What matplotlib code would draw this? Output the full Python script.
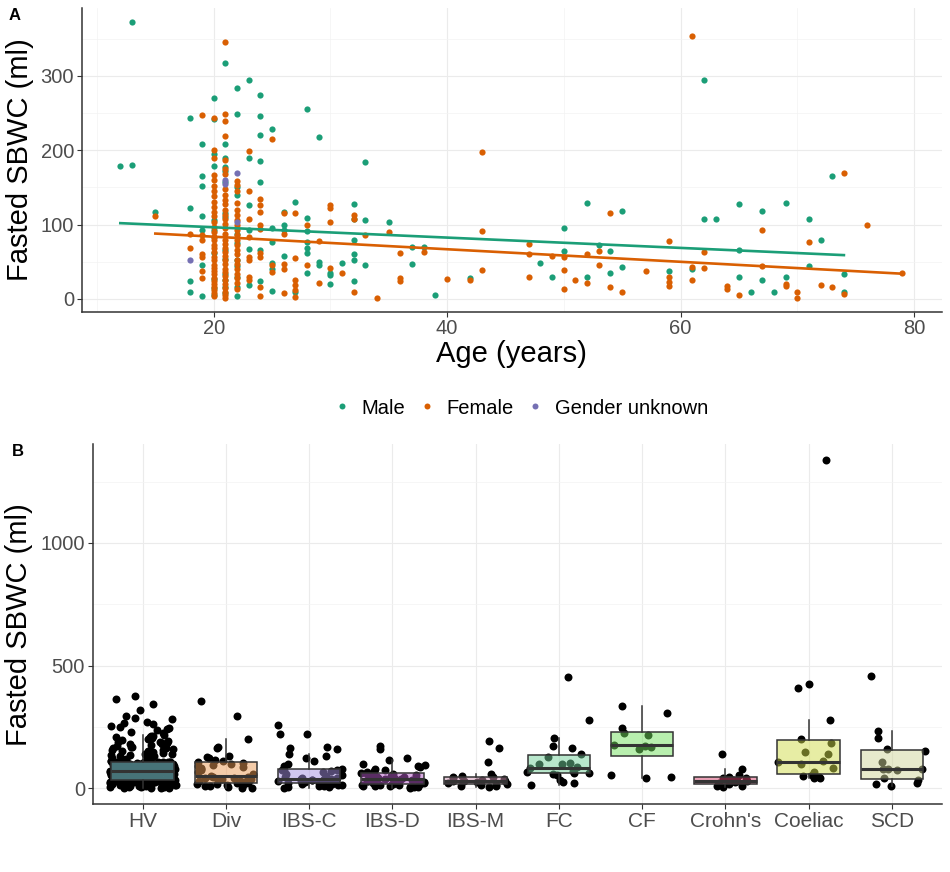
import numpy as np
import matplotlib
matplotlib.use("Agg")
import matplotlib.pyplot as plt
from matplotlib.lines import Line2D
from matplotlib.colors import to_rgba

plt.rcParams['font.family'] = ['Liberation Sans', 'DejaVu Sans']

# ---------------- Panel A data: SBWC by age, per gender ----------------
male_by_age = {
    12: [179], 13: [373, 180], 15: [117], 18: [244, 123, 24, 9],
    19: [208, 165, 152, 112, 93, 46, 4],
    20: [270, 242, 195, 179, 106, 93, 84, 62, 27, 15, 6],
    21: [318, 208, 189, 178, 172, 158, 115, 110, 66, 54, 34, 25, 16, 8],
    22: [284, 249, 151, 140, 88, 75, 52, 45, 30, 16, 4],
    23: [294, 189, 126, 93, 67, 19],
    24: [274, 246, 221, 186, 158, 66, 24],
    25: [229, 95, 76, 48, 40, 11], 26: [117, 99, 93, 58], 27: [130, 9],
    28: [256, 109, 91, 76, 68, 62, 35], 29: [218, 50, 46], 30: [35, 32, 20],
    31: [49], 32: [128, 108, 80, 61, 52, 24], 33: [184, 106, 46], 35: [104],
    37: [70, 47], 38: [70], 39: [5], 42: [28], 48: [48], 49: [29],
    50: [95, 65], 52: [129, 30], 53: [73], 54: [65, 35], 55: [119, 43],
    59: [37], 61: [40], 62: [294, 108], 63: [108], 65: [128, 66, 30],
    66: [9], 67: [119, 26], 68: [10], 69: [129, 29], 71: [108, 45],
    72: [80], 73: [165], 74: [33, 9],
}
female_by_age = {
    15: [111], 18: [87, 69], 19: [247, 86, 79, 61, 57, 38, 28],
    20: [244, 200, 190, 167, 160, 152, 145, 138, 131, 124, 117, 111, 104, 97, 90,
         84, 79, 73, 68, 63, 57, 52, 46, 42, 38, 33, 28, 24, 20, 16, 12, 8, 4],
    21: [346, 249, 240, 219, 187, 175, 168, 148, 140, 133, 128, 120, 113, 108, 101,
         95, 88, 80, 74, 69, 63, 58, 53, 47, 41, 36, 31, 26, 20, 15, 10, 5, 2],
    22: [159, 153, 145, 129, 120, 113, 106, 100, 93, 86, 80, 73, 66, 60, 53, 47,
         40, 34, 28, 22, 14],
    23: [199, 145, 107, 84, 57, 52, 30, 25],
    24: [134, 126, 117, 99, 94, 62, 56, 16, 4],
    25: [215, 46, 36], 26: [115, 88, 47, 41, 8], 27: [116, 55, 26, 19, 12, 3],
    28: [99, 46], 29: [78, 22], 30: [126, 122, 103, 42], 31: [35],
    32: [113, 108, 9], 33: [86], 34: [2], 35: [90], 36: [62, 28, 24], 38: [63],
    40: [27], 42: [26], 43: [198, 92, 39], 47: [74, 61, 29], 49: [58],
    50: [57, 39, 13], 51: [26], 52: [61, 21], 53: [65, 46], 54: [116, 16],
    55: [9], 57: [37], 59: [78, 30, 23, 17], 61: [354, 43, 25], 62: [63, 42],
    64: [18, 14], 65: [5], 67: [93, 45], 69: [20, 17], 70: [9, 2], 71: [76],
    72: [19], 73: [16], 74: [169, 7], 76: [99], 79: [35],
}
unknown_by_age = {18: [53], 21: [160, 155], 22: [169, 104]}

# linear-fit lines (age range, fitted SBWC at both ends)
male_fit_age = [12, 74]
male_fit_sbwc = [102, 59]
female_fit_age = [15, 79]
female_fit_sbwc = [88, 34]

gender_labels = ["Male", "Female", "Gender unknown"]
gender_colors = ["#1B9E77", "#D95F02", "#7570B3"]

# ---------------- Panel B data: SBWC per group ----------------
groups = ["HV", "Div", "IBS-C", "IBS-D", "IBS-M", "FC", "CF", "Crohn's", "Coeliac", "SCD"]
group_colors = ["#8fe6f0", "#eb9b55", "#a591e1", "#b45ac8", "#cd91af",
                "#73d19b", "#73e15f", "#d9456f", "#d1dd4b", "#d1d79b"]

hv = [1, 2, 3, 3, 4, 5, 5, 6, 6, 7, 8, 8, 9, 10, 10, 11, 12, 12, 13, 14, 15,
      15, 16, 17, 17, 18, 19, 19, 20, 20, 21, 22, 22, 23, 24, 24, 25, 26, 26, 27, 27, 28,
      28, 29, 29, 30, 30, 30, 31, 31, 31, 32, 32, 32, 33, 33, 33, 33, 34, 34, 34, 34,
      35, 35, 36, 36, 37, 37, 38, 38, 39, 40, 40, 41, 41, 42, 43, 43, 44, 44, 45, 45, 46,
      47, 47, 48, 49, 49, 50, 51, 51, 52, 53, 53, 54, 55, 55, 56, 57, 57, 58, 58, 59, 59,
      60, 61, 61, 62, 63, 63, 64, 65, 65, 66, 67, 67, 68, 68, 69, 69, 70, 70, 70, 71,
      72, 72, 73, 74, 74, 75, 76, 76, 77, 78, 78, 79, 80, 80, 81, 81, 82, 82, 83, 84, 84,
      85, 86, 86, 87, 88, 88, 89, 90, 90, 91, 92, 92, 93, 94, 94, 95, 96, 96, 97, 97, 98,
      98, 99, 100, 100, 101, 102, 102, 103, 104, 104, 105, 105, 106, 106, 107, 107, 108, 108, 109, 109,
      110, 112, 115, 118, 121, 124, 125, 129, 131, 133, 134, 137, 138, 141, 145, 147,
      149, 150, 152, 155, 158, 161, 163, 166, 168, 170, 172, 176, 179, 181, 185, 186, 188, 190,
      194, 197, 201, 205, 208, 211, 212, 215, 218,
      226, 230, 236, 240, 246, 250, 255, 262, 266, 271, 281, 286, 295, 320, 344, 362, 376]
div = [356, 295, 200, 167, 166, 131, 127, 122, 115, 112, 108, 105, 101, 96, 92, 88, 84,
       80, 75, 68, 60, 50, 47, 45, 44, 42, 39, 36, 33, 30, 28, 26, 24, 22, 20, 18, 16,
       14, 12, 10, 8, 5, 3, 1]
ibs_c = [2, 4, 6, 8, 10, 12, 14, 16, 18, 19, 20, 21, 23, 24, 25, 27, 28, 29, 30, 31,
         33, 34, 35, 36, 37, 38, 40, 42, 46, 50, 55, 60, 65, 70, 74, 74, 76, 77, 91, 100,
         111, 125, 132, 140, 160, 166, 170, 220, 222, 258]
ibs_d = [172, 159, 125, 116, 100, 95, 90, 85, 80, 75, 70, 66, 62, 60, 58, 56, 54, 52,
         50, 48, 46, 44, 42, 40, 38, 37, 36, 35, 34, 32, 30, 28, 27, 25, 24, 22, 21, 19,
         18, 17, 15, 14, 12, 11, 10, 8, 7, 5, 4, 2]
ibs_m = [193, 164, 107, 58, 52, 48, 45, 40, 36, 33, 31, 30, 28, 25, 22, 18, 15, 12, 10, 8, 5]
fc = [455, 278, 206, 172, 166, 140, 128, 104, 98, 99, 86, 83, 64, 66, 64, 54, 60, 70,
      34, 20, 15, 25]
cf = [41, 48, 54, 160, 167, 174, 178, 217, 224, 245, 308, 335]
crohns = [139, 79, 54, 47, 44, 42, 34, 30, 28, 25, 20, 17, 12, 9, 8, 4]
coeliac = [1338, 424, 408, 278, 200, 185, 141, 149, 111, 107, 98, 84, 68, 56, 47, 40, 43, 50]
scd = [458, 232, 204, 162, 153, 107, 77, 79, 75, 80, 35, 41, 18, 20, 9]
group_values = [hv, div, ibs_c, ibs_d, ibs_m, fc, cf, crohns, coeliac, scd]


def expand(d):
    ages, vals = [], []
    for a, vs in d.items():
        ages += [a] * len(vs)
        vals += vs
    return ages, vals


W, H = 950, 872
fig = plt.figure(figsize=(W / 100, H / 100), dpi=100)
axA = fig.add_axes([81.7 / W, 1 - 311.7 / H, (941.7 - 81.7) / W, (311.7 - 8.3) / H])
axB = fig.add_axes([92.7 / W, 1 - 804.3 / H, (941.7 - 92.7) / W, (804.3 - 444.3) / H])

for ax in (axA, axB):
    for s in ("top", "right"):
        ax.spines[s].set_visible(False)
    for s in ("left", "bottom"):
        ax.spines[s].set_color("#333333")
        ax.spines[s].set_linewidth(1.1)
    ax.set_axisbelow(True)
    ax.grid(which="major", color="#EBEBEB", lw=0.8)
    ax.grid(which="minor", color="#F3F3F3", lw=0.5)
    ax.tick_params(which="major", colors="#333333", labelcolor="#4D4D4D",
                   labelsize=14.5, length=3.5, width=0.8, pad=2)
    ax.tick_params(which="minor", length=0)

# ---------------- Panel A ----------------
for d, c in zip([male_by_age, female_by_age, unknown_by_age], gender_colors):
    a, v = expand(d)
    axA.scatter(a, v, s=20, color=c, linewidths=0, zorder=2)
axA.plot(male_fit_age, male_fit_sbwc, color=gender_colors[0], lw=1.9, zorder=3)
axA.plot(female_fit_age, female_fit_sbwc, color=gender_colors[1], lw=1.9, zorder=3)
axA.set_xlim(8.69, 82.38)
axA.set_ylim(-17.1, 391)
axA.set_xticks([20, 40, 60, 80])
axA.set_xticks([10, 30, 50, 70], minor=True)
axA.set_yticks([0, 100, 200, 300])
axA.set_yticks([50, 150, 250, 350], minor=True)
axA.set_xlabel("Age (years)", fontsize=21)
axA.set_ylabel("Fasted SBWC (ml)", fontsize=21)
axA.xaxis.set_label_coords(0.5, -0.092)
axA.yaxis.set_label_coords(-0.056, 0.5)

handles = [Line2D([], [], ls="", marker="o", ms=4.3, color=c, mew=0) for c in gender_colors]
fig.legend(handles, gender_labels, loc="center", bbox_to_anchor=(522 / W, 1 - 408 / H),
           ncol=3, frameon=False, fontsize=14.5, handlelength=0.6, handletextpad=0.7,
           columnspacing=0.75, borderpad=0)

# ---------------- Panel B ----------------
rng = np.random.default_rng(7)
positions = np.arange(1, len(groups) + 1)
for pos, vals in zip(positions, group_values):
    xj = pos + rng.uniform(-0.4, 0.4, len(vals))
    axB.scatter(xj, vals, s=33, color="black", linewidths=0, zorder=2)

bp = axB.boxplot(group_values, positions=positions, widths=0.75, patch_artist=True,
                 showfliers=False, showcaps=False, whis=1.5,
                 medianprops=dict(color="#333333", lw=2.2),
                 whiskerprops=dict(color="#333333", lw=1.1),
                 boxprops=dict(edgecolor="#333333", lw=1.1), zorder=3)
for patch, c in zip(bp["boxes"], group_colors):
    patch.set_facecolor(to_rgba(c, 0.5))
    patch.set_edgecolor("#333333")

axB.set_xlim(0.4, len(groups) + 0.6)
axB.set_ylim(-65.2, 1402)
axB.set_xticks(positions)
axB.set_xticklabels(groups)
axB.tick_params(axis="x", labelsize=15)
axB.set_yticks([0, 500, 1000])
axB.set_yticks([250, 750, 1250], minor=True)
axB.set_ylabel("Fasted SBWC (ml)", fontsize=21)
axB.yaxis.set_label_coords(-0.0703, 0.5)

fig.text(9 / W, 1 - 16 / H, "A", fontweight="bold", fontsize=12, ha="left", va="center")
fig.text(12 / W, 1 - 451 / H, "B", fontweight="bold", fontsize=12, ha="left", va="center")

fig.savefig("out.png", dpi=100)
